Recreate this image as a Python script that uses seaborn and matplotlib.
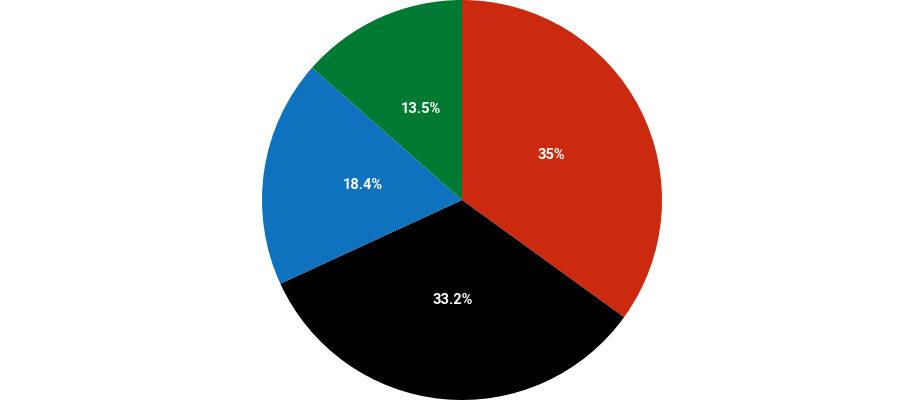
import matplotlib
matplotlib.use("Agg")
import matplotlib.pyplot as plt
import seaborn as sns

categories = ["Red", "Black", "Blue", "Green"]
values = [35.0, 33.2, 18.4, 13.5]
pct_labels = ["35%", "33.2%", "18.4%", "13.5%"]
colors = ["#CC2A0E", "#000000", "#0E72BF", "#007A33"]

sns.set_theme(style="white")
plt.rcParams['font.family'] = ['Roboto', 'DejaVu Sans']

fig = plt.figure(figsize=(9.14, 4.0), dpi=100)
ax = fig.add_axes([(462 - 200) / 914, 0.0, 400 / 914, 1.0])
wedges, texts = ax.pie(values, labels=pct_labels, colors=colors, startangle=90,
                       counterclock=False, labeldistance=0.5,
                       wedgeprops=dict(linewidth=0),
                       textprops=dict(color="white", fontsize=10.5, fontweight="bold"))
for t in texts:
    t.set_horizontalalignment("center")
    t.set_verticalalignment("center")
ax.set_xlim(-1, 1)
ax.set_ylim(-1, 1)
ax.set_aspect("equal")
ax.axis("off")
fig.savefig("out.png", dpi=100, facecolor="white")
